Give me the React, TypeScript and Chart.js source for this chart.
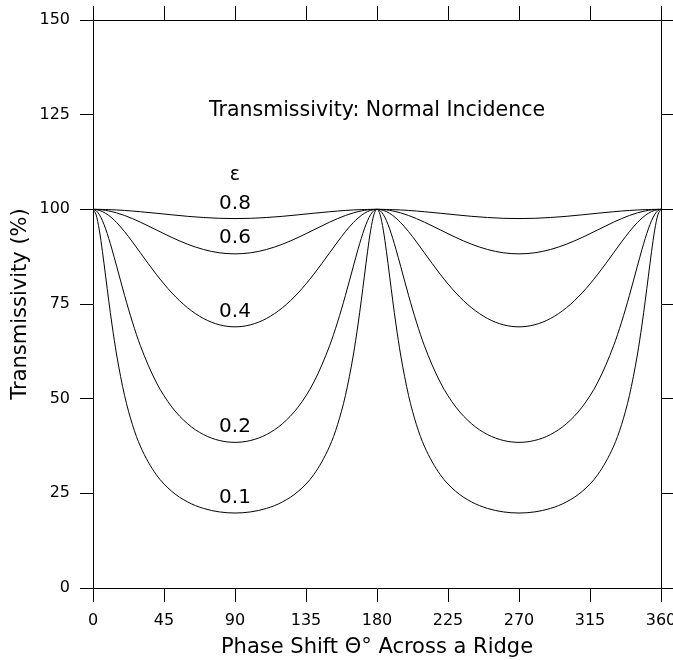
import React, { useEffect, useRef } from "react";
import { Chart, registerables } from "chart.js";

Chart.register(...registerables);

// Phase shift (degrees)
const phase = [
  0, 2, 4, 6, 8, 10, 12, 15, 20, 25, 30, 40, 50, 60, 70, 80, 90,
  100, 110, 120, 130, 140, 150, 155, 160, 165, 168, 170, 172, 174, 176, 178, 180,
  182, 184, 186, 188, 190, 192, 195, 200, 205, 210, 220, 230, 240, 250, 260, 270,
  280, 290, 300, 310, 320, 330, 335, 340, 345, 348, 350, 352, 354, 356, 358, 360,
];

// Transmissivity (%) per epsilon
const eps08 = [
  100, 100.0, 99.99, 99.97, 99.95, 99.92, 99.89, 99.83, 99.71, 99.55, 99.37, 98.97, 98.55, 98.15, 97.84, 97.63, 97.56,
  97.63, 97.84, 98.15, 98.55, 98.97, 99.37, 99.55, 99.71, 99.83, 99.89, 99.92, 99.95, 99.97, 99.99, 100.0, 100,
  100.0, 99.99, 99.97, 99.95, 99.92, 99.89, 99.83, 99.71, 99.55, 99.37, 98.97, 98.55, 98.15, 97.84, 97.63, 97.56,
  97.63, 97.84, 98.15, 98.55, 98.97, 99.37, 99.55, 99.71, 99.83, 99.89, 99.92, 99.95, 99.97, 99.99, 100.0, 100,
];
const eps06 = [
  100, 99.98, 99.93, 99.85, 99.73, 99.57, 99.39, 99.06, 98.38, 97.55, 96.62, 94.6, 92.57, 90.78, 89.4, 88.53, 88.24,
  88.53, 89.4, 90.78, 92.57, 94.6, 96.62, 97.55, 98.38, 99.06, 99.39, 99.57, 99.73, 99.85, 99.93, 99.98, 100,
  99.98, 99.93, 99.85, 99.73, 99.57, 99.39, 99.06, 98.38, 97.55, 96.62, 94.6, 92.57, 90.78, 89.4, 88.53, 88.24,
  88.53, 89.4, 90.78, 92.57, 94.6, 96.62, 97.55, 98.38, 99.06, 99.39, 99.57, 99.73, 99.85, 99.93, 99.98, 100,
];
const eps04 = [
  100, 99.93, 99.73, 99.4, 98.95, 98.38, 97.7, 96.5, 94.12, 91.4, 88.54, 82.89, 77.92, 73.99, 71.18, 69.52, 68.97,
  69.52, 71.18, 73.99, 77.92, 82.89, 88.54, 91.4, 94.12, 96.5, 97.7, 98.38, 98.95, 99.4, 99.73, 99.93, 100,
  99.93, 99.73, 99.4, 98.95, 98.38, 97.7, 96.5, 94.12, 91.4, 88.54, 82.89, 77.92, 73.99, 71.18, 69.52, 68.97,
  69.52, 71.18, 73.99, 77.92, 82.89, 88.54, 91.4, 94.12, 96.5, 97.7, 98.38, 98.95, 99.4, 99.73, 99.93, 100,
];
const eps02 = [
  100, 99.65, 98.63, 96.99, 94.85, 92.3, 89.48, 84.95, 77.29, 70.21, 64.02, 54.39, 47.78, 43.36, 40.53, 38.97, 38.46,
  38.97, 40.53, 43.36, 47.78, 54.39, 64.02, 70.21, 77.29, 84.95, 89.48, 92.3, 94.85, 96.99, 98.63, 99.65, 100,
  99.65, 98.63, 96.99, 94.85, 92.3, 89.48, 84.95, 77.29, 70.21, 64.02, 54.39, 47.78, 43.36, 40.53, 38.97, 38.46,
  38.97, 40.53, 43.36, 47.78, 54.39, 64.02, 70.21, 77.29, 84.95, 89.48, 92.3, 94.85, 96.99, 98.63, 99.65, 100,
];
const eps01 = [
  100, 98.54, 94.52, 88.82, 82.35, 75.83, 69.69, 61.53, 50.86, 43.13, 37.46, 29.98, 25.5, 22.72, 21.02, 20.1, 19.8,
  20.1, 21.02, 22.72, 25.5, 29.98, 37.46, 43.13, 50.86, 61.53, 69.69, 75.83, 82.35, 88.82, 94.52, 98.54, 100,
  98.54, 94.52, 88.82, 82.35, 75.83, 69.69, 61.53, 50.86, 43.13, 37.46, 29.98, 25.5, 22.72, 21.02, 20.1, 19.8,
  20.1, 21.02, 22.72, 25.5, 29.98, 37.46, 43.13, 50.86, 61.53, 69.69, 75.83, 82.35, 88.82, 94.52, 98.54, 100,
];

const seriesNames = ["0.8", "0.6", "0.4", "0.2", "0.1"];
const seriesValues = [eps08, eps06, eps04, eps02, eps01];

// In-plot annotations (text, x in degrees, y baseline in %)
const noteText = ["Transmissivity: Normal Incidence", "\u03b5", "0.8", "0.6", "0.4", "0.2", "0.1"];
const noteX = [180, 90, 90, 90, 90, 90, 90];
const noteY = [124.6, 107.7, 100.0, 91.0, 71.6, 41.3, 22.4];
const noteSize = [20.5, 19, 20, 20, 20, 20, 20];

const xTitle = "Phase Shift \u0398\u00b0 Across a Ridge";
const yTitle = "Transmissivity (%)";

const FONT = "'DejaVu Sans', sans-serif";

export default function App() {
  const ref = useRef<HTMLCanvasElement | null>(null);

  useEffect(() => {
    const canvas = ref.current;
    if (!canvas) return;

    const textPlugin = {
      id: "texts",
      afterDraw(chart: any) {
        const ctx = chart.ctx;
        const xs = chart.scales.x;
        const ys = chart.scales.y;
        const area = chart.chartArea;
        ctx.save();
        ctx.fillStyle = "#000";
        ctx.textAlign = "center";
        ctx.textBaseline = "alphabetic";
        for (let i = 0; i < noteText.length; i++) {
          ctx.font = `${noteSize[i]}px ${FONT}`;
          ctx.fillText(noteText[i], xs.getPixelForValue(noteX[i]), ys.getPixelForValue(noteY[i]));
        }
        ctx.font = `21px ${FONT}`;
        ctx.fillText(xTitle, (area.left + area.right) / 2, 653);
        ctx.translate(26, (area.top + area.bottom) / 2);
        ctx.rotate(-Math.PI / 2);
        ctx.fillText(yTitle, 0, 0);
        ctx.restore();
      },
    };

    const tickFont = { family: FONT, size: 16 };
    const gridCommon = {
      drawOnChartArea: false,
      drawTicks: true,
      tickLength: 13,
      color: "#000",
      lineWidth: 1,
    };
    const borderCommon = { display: true, color: "#000", width: 1 };
    const noPad = (s: any) => {
      s.paddingLeft = 0;
      s.paddingRight = 0;
      s.paddingTop = 0;
      s.paddingBottom = 0;
    };

    const chart = new Chart(canvas, {
      type: "line",
      data: {
        datasets: seriesNames.map((name, i) => ({
          label: name,
          data: phase.map((p, j) => ({ x: p, y: seriesValues[i][j] })),
          borderColor: "#000",
          borderWidth: 1,
          pointRadius: 0,
          fill: false,
          cubicInterpolationMode: "monotone" as const,
        })),
      },
      options: {
        responsive: false,
        animation: false,
        devicePixelRatio: 1,
        layout: { padding: 0 },
        plugins: {
          legend: { display: false },
          tooltip: { enabled: false },
          title: { display: false },
        },
        scales: {
          x: {
            type: "linear",
            position: "bottom",
            min: 0,
            max: 360,
            ticks: { stepSize: 45, color: "#000", font: tickFont, padding: 9, maxRotation: 0 },
            grid: { ...gridCommon, tickLength: 14 },
            border: borderCommon,
            afterFit: (s: any) => {
              s.height = 72;
              noPad(s);
            },
          },
          x2: {
            type: "linear",
            axis: "x",
            position: "top",
            min: 0,
            max: 360,
            ticks: { stepSize: 45, color: "rgba(0,0,0,0)", font: tickFont, maxRotation: 0 },
            grid: { ...gridCommon, tickLength: 14 },
            border: borderCommon,
            afterFit: (s: any) => {
              s.height = 20;
              noPad(s);
            },
          },
          y: {
            type: "linear",
            position: "left",
            min: 0,
            max: 150,
            ticks: { stepSize: 25, color: "#000", font: tickFont, padding: 10 },
            grid: gridCommon,
            border: borderCommon,
            afterFit: (s: any) => {
              s.width = 93;
              noPad(s);
            },
          },
          y2: {
            type: "linear",
            axis: "y",
            position: "right",
            min: 0,
            max: 150,
            ticks: { stepSize: 25, color: "rgba(0,0,0,0)", font: tickFont },
            grid: gridCommon,
            border: borderCommon,
            afterFit: (s: any) => {
              s.width = 12;
              noPad(s);
            },
          },
        },
      } as any,
      plugins: [textPlugin],
    });

    return () => chart.destroy();
  }, []);

  return (
    <div style={{ position: "absolute", left: 0, top: 0, width: 673, height: 660, background: "#fff" }}>
      <canvas ref={ref} width={673} height={660} style={{ width: 673, height: 660, display: "block" }} />
    </div>
  );
}
